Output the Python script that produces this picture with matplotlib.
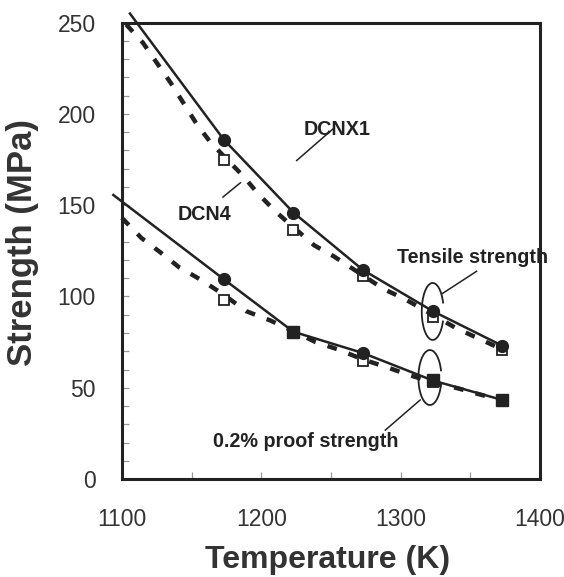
import numpy as np
import matplotlib.pyplot as plt
from matplotlib.patches import Arc
from matplotlib.ticker import MultipleLocator

# Test temperatures (K)
temps = [1173, 1223, 1273, 1323, 1373]

# Tensile strength (MPa)
ts_dcnx1 = [186, 146, 114.5, 92, 73]
ts_dcn4 = [175, 136.5, 111, 89, 70.5]

# 0.2% proof strength (MPa)
ps_dcnx1 = [109.5, 80.7, 69, 54, 43.3]
ps_dcnx1_marker = ['o', 's', 'o', 's', 's']
ps_dcn4 = [98, 80.5, 64.5, 53, 43]

# trend lines as drawn in the figure
ts_fit1_x = [1105.7, 1173, 1223, 1273, 1323, 1373]
ts_fit1_y = [255, 186, 146, 114.5, 92, 73]
ps_fit1_x = [1093.8, 1173, 1223, 1273, 1323, 1373]
ps_fit1_y = [155.6, 109.5, 80.7, 69, 54, 43.3]

ts_fit4_x = [1103, 1115, 1135, 1154, 1164, 1187, 1198, 1211, 1223, 1238,
             1252, 1266, 1288, 1302, 1323, 1339, 1353, 1373]
ts_fit4_y = [249, 239, 217, 194, 184, 166, 156, 146, 138, 128,
             122, 115, 104, 99, 90, 83, 78, 71]
ps_fit4_x = [1100, 1114, 1127, 1141, 1157, 1173, 1189, 1206, 1223, 1239,
             1255, 1273, 1291, 1306, 1323, 1341, 1356, 1373]
ps_fit4_y = [143, 132, 124.5, 116, 109, 101, 92, 87, 81, 75,
             71, 65.5, 61, 57, 53, 49.7, 46.5, 43]

ink = '#222222'
note_size = 14.2

plt.rcParams['font.family'] = ['Liberation Sans', 'DejaVu Sans']

fig = plt.figure(figsize=(5.64, 5.77), dpi=100)
ax = fig.add_axes([0.2163, 0.1698, 0.7411, 0.7909])

# lines
ax.plot(ts_fit1_x, ts_fit1_y, color=ink, lw=1.8, clip_on=False, zorder=2)
ax.plot(ps_fit1_x, ps_fit1_y, color=ink, lw=1.8, clip_on=False, zorder=2)
ax.plot(ts_fit4_x, ts_fit4_y, color=ink, lw=3.2, dashes=(2.2, 2.8),
        dash_capstyle='butt', clip_on=False, zorder=2)
ax.plot(ps_fit4_x, ps_fit4_y, color=ink, lw=3.2, dashes=(2.2, 2.8),
        dash_capstyle='butt', clip_on=False, zorder=2)

# markers
ax.plot(temps, ts_dcn4, 's', ms=7.5, mfc='white', mec=ink, mew=1.3, zorder=3)
ax.plot(temps, ps_dcn4, 's', ms=7.5, mfc='white', mec=ink, mew=1.3, zorder=3)
ax.plot(temps, ts_dcnx1, 'o', ms=8.5, color=ink, zorder=4)
for t, v, m in zip(temps, ps_dcnx1, ps_dcnx1_marker):
    ax.plot(t, v, m, ms=8.5, color=ink, zorder=4)

# curve labels
ax.text(1230.5, 188.5, 'DCNX1', weight='bold', fontsize=note_size,
        color=ink, va='baseline')
ax.plot([1225.4, 1252.2], [174.5, 192.3], color=ink, lw=1.1)
ax.text(1139.9, 141.9, 'DCN4', weight='bold', fontsize=note_size,
        color=ink, va='baseline')
ax.plot([1172.5, 1185], [154.5, 162.3], color=ink, lw=1.1)

# group labels with ellipses
ax.add_patch(Arc((temps[3], 91.8), 15.7, 31.2, theta1=30, theta2=326,
                 color=ink, lw=1.3, zorder=5))
ax.plot([1329.5, 1354.5], [101.4, 113.8], color=ink, lw=1.1)
ax.text(1297.3, 118.2, 'Tensile strength', weight='bold',
        fontsize=note_size, color=ink, va='baseline', clip_on=False)
ax.add_patch(Arc((temps[3] - 2, 55.6), 16.5, 30.1, theta1=23, theta2=337,
                 color=ink, lw=1.3, zorder=5))
ax.plot([1314, 1289], [43.3, 26.8], color=ink, lw=1.1)
ax.text(1165, 17.7, '0.2% proof strength', weight='bold',
        fontsize=note_size, color=ink, va='baseline')

# axes
ax.set_xlim(1100, 1400)
ax.set_ylim(0, 250)
ax.xaxis.set_major_locator(MultipleLocator(100))
ax.xaxis.set_minor_locator(MultipleLocator(50))
ax.yaxis.set_major_locator(MultipleLocator(50))
ax.yaxis.set_minor_locator(MultipleLocator(10))
ax.tick_params(which='both', direction='in', length=5, width=0.9,
               color='#999999', top=False, right=False)
ax.tick_params(axis='x', labelsize=16.5, labelcolor='#333333', pad=21)
ax.tick_params(axis='y', labelsize=16.5, labelcolor='#333333', pad=19)
for s in ax.spines.values():
    s.set_linewidth(2.2)
    s.set_color(ink)

fig.text(0.5816, 0.0156, 'Temperature (K)', ha='center', va='baseline',
         fontsize=23, weight='bold', color='#333333')
fig.text(0.0562, 0.5790, 'Strength (MPa)', ha='center', va='baseline',
         rotation=90, rotation_mode='anchor', fontsize=25, weight='bold',
         color='#333333')

fig.savefig('out.png', dpi=100)
